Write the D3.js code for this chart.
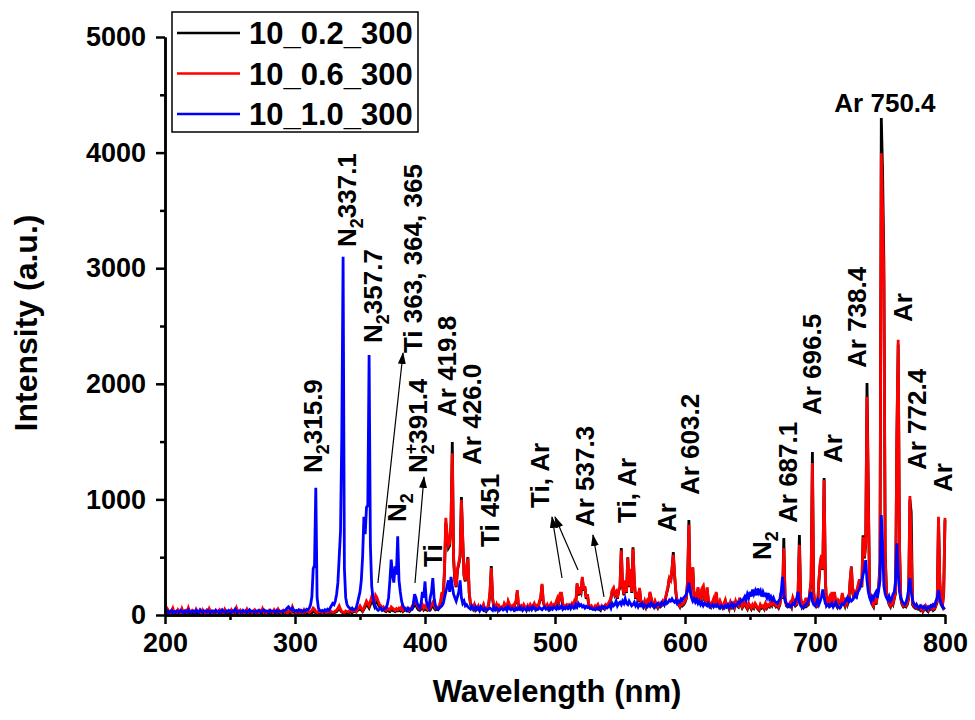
<!DOCTYPE html>
<html>
<head>
<meta charset="utf-8">
<script src="https://cdn.jsdelivr.net/npm/d3@7"></script>
<style>
  body { margin: 0; background: #fff; }
  text { font-family: "Liberation Sans", Arial, sans-serif; font-weight: bold; fill: #000; }
</style>
</head>
<body>
<svg id="the-chart"></svg>
<script>
// wavelength grid of the spectra, 1 nm step (200 ... 800 nm)
const wavelength = d3.range(200, 801, 1);

const seriesNames = ["10_0.2_300", "10_0.6_300", "10_1.0_300"];
const seriesColors = ["#000000", "#ff0000", "#0000ff"];

// intensity, 10_0.2_300 (black)
const int02 = [
  20,15,25,20,10,20,25,15,20,10, 25,20,15,20,25,15,20,10,25,20,
  15,20,25,10,20,25,15,20,10,25, 20,15,25,20,10,20,15,25,20,15,
  10,20,25,15,20,10,25,20,15,20, 25,15,20,10,20,25,15,20,25,15,
  20,10,25,20,15,20,25,15,20,10, 25,20,15,20,10,25,20,15,20,25,
  15,20,10,25,20,15,20,25,15,20, 20,25,15,20,30,25,20,15,40,25,
  20,15,25,20,30,20,15,25,20,15, 20,15,25,20,30,25,20,15,20,25,
  15,20,25,15,20,25,20,30,20,15, 20,25,30,45,60,40,25,20,15,25,
  20,15,30,25,20,35,30,25,40,45, 60,45,30,50,70,90,80,60,90,120,
  110,80,130,110,90,70,60,45,50,35, 30,45,35,30,50,40,35,30,40,35,
  45,35,50,30,40,45,35,40,30,45, 50,70,80,90,60,45,40,50,70,45,
  60,45,40,50,45,70,80,60,45,50, 45,60,100,180,150,380,800,680,580,600,
  780,1497,480,290,240,390,440,500,1020,660, 340,290,410,500,190,90,70,50,80,40,
  50,70,40,60,50,80,40,30,50,90, 190,424,140,60,50,80,40,70,50,60,
  50,90,70,50,110,80,60,70,50,90, 110,205,60,50,70,50,80,60,40,70,
  50,80,60,70,90,50,70,60,110,140, 260,110,70,60,80,50,70,90,60,80,
  70,110,140,110,180,180,90,60,70,80, 60,80,70,90,70,110,90,265,170,210,
  190,320,210,240,140,170,80,60,70,50, 50,70,60,80,50,40,70,60,50,80,
  70,90,110,140,205,225,170,190,140,210, 240,580,240,170,290,190,500,240,390,190,
  585,290,140,190,110,225,120,90,70,110, 70,110,80,190,140,90,70,110,80,60,
  90,70,80,110,90,140,190,240,330,290, 390,545,340,190,110,90,70,110,80,90,
  110,140,290,822,190,290,405,140,190,140, 230,120,90,220,240,130,110,230,120,90,
  70,100,130,80,190,90,70,110,80,60, 90,120,70,80,50,100,70,90,60,110,
  80,70,140,90,60,80,110,70,50,90, 70,50,80,60,90,70,50,40,80,60,
  70,50,90,60,80,70,100,80,110,90, 70,80,60,90,190,140,666,140,80,70,
  80,100,70,140,110,80,90,190,692,140, 70,90,60,140,80,90,190,290,1410,190,
  90,70,80,290,440,510,390,1185,290,90, 110,140,90,190,80,190,90,70,120,110,
  90,180,110,80,140,90,120,290,420,190, 140,190,170,240,290,290,240,690,490,610,
  2007,1100,190,140,90,70,140,90,170,240, 450,4300,3823,3045,550,190,140,90,70,110,
  90,140,190,1557,2340,590,140,90,70,80, 70,90,140,1000,890,90,70,60,80,50,
  50,40,60,30,50,70,40,30,60,50, 70,40,50,80,110,830,290,90,70,190,
  820
];

// intensity, 10_0.6_300 (red)
const int06 = [
  40,20,50,30,20,35,60,25,30,20, 45,30,20,55,25,30,40,20,60,30,
  25,40,30,20,50,30,25,35,20,45, 30,20,40,25,55,30,20,35,25,40,
  20,30,45,25,30,20,50,30,25,35, 30,45,20,35,25,60,30,20,40,25,
  35,20,30,50,25,40,30,20,35,45, 25,30,20,40,30,55,25,35,20,30,
  40,25,30,20,45,30,25,50,30,20, 30,40,25,35,20,30,45,30,70,40,
  30,20,35,25,40,30,20,45,25,30, 35,20,30,40,60,50,30,20,35,25,
  30,20,25,35,20,30,25,40,30,20, 25,35,40,60,80,50,30,25,20,35,
  30,25,40,35,30,45,40,30,50,60, 80,60,40,60,90,120,100,80,120,160,
  140,100,170,150,120,90,80,60,70,50, 40,60,50,45,70,60,50,40,55,45,
  60,50,70,40,55,60,45,50,40,60, 70,90,110,120,80,60,50,70,90,60,
  80,60,50,70,60,90,110,80,60,70, 60,80,120,200,150,400,840,700,600,620,
  800,1400,500,300,250,400,450,520,995,675, 350,300,420,490,200,100,80,60,90,50,
  60,80,50,70,60,90,50,40,60,100, 200,405,150,70,60,90,50,80,60,70,
  60,100,80,60,120,90,70,80,60,100, 120,215,70,60,80,60,90,70,50,80,
  60,90,70,80,100,60,80,70,120,150, 270,120,80,70,90,60,80,100,70,90,
  80,120,150,120,190,190,100,70,80,90, 70,90,80,100,80,120,100,275,180,220,
  200,330,220,250,150,180,90,70,80,60, 60,80,70,90,60,50,80,70,60,90,
  80,100,120,150,215,235,180,200,150,220, 250,560,250,180,300,200,490,250,400,200,
  575,300,150,200,120,235,130,100,80,120, 80,120,90,200,150,100,80,120,90,70,
  100,80,90,120,100,150,200,250,320,300, 400,520,350,200,120,100,80,120,90,100,
  120,150,300,780,200,300,415,150,200,150, 240,130,100,230,250,140,120,240,130,100,
  80,110,140,90,200,100,80,120,90,70, 100,130,80,90,60,110,80,100,70,120,
  90,80,150,100,70,90,120,80,60,100, 80,60,90,70,100,80,60,50,90,70,
  80,60,100,70,90,80,110,90,120,100, 80,90,70,100,200,150,580,150,90,80,
  90,110,80,150,120,90,100,200,605,150, 80,100,70,150,90,100,200,300,1315,200,
  100,80,90,300,450,520,400,1168,300,100, 120,150,100,200,90,200,100,80,130,120,
  100,190,120,90,150,100,130,300,415,200, 150,200,180,250,300,300,250,675,500,620,
  1886,1000,200,150,100,80,150,100,180,250, 400,3995,3500,2870,500,200,150,100,80,120,
  100,150,200,1600,2380,600,150,100,80,90, 80,100,150,1030,600,100,80,70,90,60,
  60,50,70,40,60,80,50,40,70,60, 80,50,60,90,120,850,300,100,80,200,
  840
];

// intensity, 10_1.0_300 (blue)
const int10 = [
  30,25,35,20,30,40,25,30,20,35, 30,25,40,30,20,35,30,25,45,30,
  25,30,35,20,40,30,25,45,30,25, 35,30,25,40,30,20,35,30,25,40,
  30,35,20,30,45,30,25,35,30,40, 30,25,35,30,50,30,25,35,30,25,
  40,30,35,25,30,45,30,35,30,25, 35,30,40,30,25,35,45,30,35,30,
  25,40,30,35,30,25,40,30,35,30, 35,30,40,45,60,70,55,45,60,40,
  35,40,30,45,35,40,30,40,35,50, 45,60,90,160,400,430,1100,150,60,40,
  35,40,30,45,35,50,40,60,80,100, 90,120,180,280,500,720,1550,3100,400,150,
  90,70,60,50,60,45,50,60,100,150, 200,300,500,850,700,930,950,2250,600,250,
  150,100,70,50,40,50,60,40,50,60, 60,90,150,300,480,350,280,420,350,680,
  300,200,120,80,60,50,40,60,50,45, 50,100,180,150,100,80,60,100,200,150,
  290,120,80,60,150,200,320,150,80,60, 50,60,70,80,100,150,200,250,300,200,
  330,250,180,150,120,160,200,300,150,100, 120,80,90,70,60,50,80,60,50,70,
  50,60,40,70,50,40,60,50,45,55, 60,50,40,70,45,60,50,40,55,60,
  45,50,60,40,70,55,45,60,50,40, 60,45,50,70,55,40,60,50,45,65,
  50,60,45,70,55,60,45,50,65,55, 45,60,70,50,55,65,45,60,50,70,
  60,50,75,55,60,80,50,65,55,70, 60,75,55,80,65,60,90,70,100,80,
  90,70,80,60,75,65,70,55,60,50, 55,45,60,50,65,55,70,60,75,65,
  60,70,85,60,100,80,90,120,80,100, 110,90,120,100,140,100,90,120,100,80,
  90,110,80,100,70,90,80,100,70,90, 80,70,90,75,100,80,90,70,85,100,
  90,80,110,100,90,120,100,110,130,120, 140,120,110,130,100,120,110,140,130,150,
  160,180,220,280,200,150,120,140,110,130, 100,120,90,110,80,100,90,80,100,70,
  80,90,70,85,75,90,70,60,80,70, 60,80,70,90,65,80,100,70,90,80,
  90,110,100,130,120,140,160,130,180,150, 200,160,220,180,210,170,230,190,210,160,
  200,170,180,150,190,140,160,130,150,120, 110,100,120,140,200,330,180,120,100,80,
  90,70,80,100,90,120,150,200,110,80, 70,60,80,90,100,130,170,200,120,90,
  80,100,130,90,120,160,220,150,100,80, 90,70,80,100,70,90,110,80,70,60,
  80,100,90,110,130,150,120,140,120,130, 150,180,160,200,220,250,300,350,400,475,
  300,200,150,120,160,140,180,200,150,220, 300,865,600,250,180,150,130,160,120,140,
  180,200,300,620,350,200,150,120,100,90, 110,150,220,320,200,130,100,80,90,70,
  60,80,70,60,75,60,50,70,60,80, 70,90,80,120,150,215,140,100,80,60,
  50
];

const seriesValues = [int02, int06, int10];

// axis ticks
const xMajor = [200, 300, 400, 500, 600, 700, 800];
const xMinor = [250, 350, 450, 550, 650, 750];
const yMajor = [0, 1000, 2000, 3000, 4000, 5000];
const yMinor = [500, 1500, 2500, 3500, 4500];

// peak assignments: label, wavelength / intensity where the label starts
const peakLabels = [
  {pre: "N", sub: "2", sup: "", main: "315.9", wl: 313.8, v: 1228},
  {pre: "N", sub: "2", sup: "", main: "337.1", wl: 340.0, v: 3183},
  {pre: "N", sub: "2", sup: "", main: "357.7", wl: 360.0, v: 2353},
  {main: "Ti 363, 364, 365", wl: 390.8, v: 2266},
  {pre: "N", sub: "2", sup: "", main: "", wl: 378.5, v: 805},
  {pre: "N", sub: "2", sup: "+", main: "391.4", wl: 394.6, v: 1228},
  {main: "Ti", wl: 406.2, v: 415},
  {main: "Ar 419.8", wl: 416.9, v: 1713},
  {main: "Ar 426.0", wl: 436.2, v: 1298},
  {main: "Ti 451", wl: 450.0, v: 588},
  {main: "Ti, Ar", wl: 488.5, v: 926},
  {main: "Ar 537.3", wl: 523.0, v: 761},
  {main: "Ti, Ar", wl: 555.4, v: 796},
  {main: "Ar", wl: 586.2, v: 718},
  {main: "Ar 603.2", wl: 603.8, v: 1038},
  {pre: "N", sub: "2", sup: "", main: "", wl: 659.2, v: 476},
  {main: "Ar 687.1", wl: 679.2, v: 796},
  {main: "Ar 696.5", wl: 697.7, v: 1730},
  {main: "Ar", wl: 713.8, v: 1315},
  {main: "Ar 738.4", wl: 732.3, v: 2137},
  {main: "Ar", wl: 767.7, v: 2535},
  {main: "Ar 772.4", wl: 778.5, v: 1254},
  {main: "Ar", wl: 798.5, v: 1064}
];
const topLabel = {main: "Ar 750.4", wl: 753.8, v: 4351};

// arrows: [wl0, v0, wl1, v1]
const arrows = [
  [363.8, 277, 383.1, 2266],
  [392.3, 277, 399.2, 1194],
  [505.4, 320, 497.7, 848],
  [517.7, 389, 500.0, 848],
  [537.7, 156, 529.2, 692]
];

const width = 975;
const height = 720;

const x = d3.scaleLinear().domain([200, 800]).range([165, 945]);
const y = d3.scaleLinear().domain([0, 5000]).range([615, 37]);

const svg = d3.select("#the-chart")
    .attr("width", width)
    .attr("height", height)
    .attr("viewBox", [0, 0, width, height]);

svg.append("rect").attr("width", width).attr("height", height).attr("fill", "#fff");

// spectra: black first, blue on top
const line = d3.line()
    .x((d, i) => x(wavelength[i]))
    .y(d => y(d));

svg.append("g")
  .selectAll("path")
  .data(seriesValues)
  .join("path")
    .attr("fill", "none")
    .attr("stroke", (d, i) => seriesColors[i])
    .attr("stroke-width", 2.8)
    .attr("d", line);

// axes
function styleAxis(g) {
  g.select(".domain").attr("stroke", "#000").attr("stroke-width", 2.5);
  g.selectAll(".tick line").attr("stroke", "#000").attr("stroke-width", 2.5);
  g.selectAll(".tick text").attr("font-size", 27).attr("font-family", null);
}

svg.append("g")
    .attr("transform", `translate(0,${y(0)})`)
    .call(d3.axisBottom(x).tickValues(xMinor).tickSize(5).tickSizeOuter(0).tickFormat(""))
    .call(styleAxis);
svg.append("g")
    .attr("transform", `translate(0,${y(0)})`)
    .call(d3.axisBottom(x).tickValues(xMajor).tickSize(9).tickSizeOuter(0).tickPadding(9).tickFormat(d3.format("d")))
    .call(styleAxis);

svg.append("g")
    .attr("transform", `translate(${x(200)},0)`)
    .call(d3.axisLeft(y).tickValues(yMinor).tickSize(5).tickSizeOuter(0).tickFormat(""))
    .call(styleAxis);
svg.append("g")
    .attr("transform", `translate(${x(200)},0)`)
    .call(d3.axisLeft(y).tickValues(yMajor).tickSize(9).tickSizeOuter(0).tickPadding(10).tickFormat(d3.format("d")))
    .call(styleAxis);

svg.append("text")
    .attr("x", 557)
    .attr("y", 702)
    .attr("text-anchor", "middle")
    .attr("font-size", 31)
    .text("Wavelength (nm)");

svg.append("text")
    .attr("transform", "translate(37,323) rotate(-90)")
    .attr("text-anchor", "middle")
    .attr("font-size", 32)
    .text("Intensity (a.u.)");

// peak labels
const ann = svg.append("g").attr("font-size", 26);

function fillLabel(t, d) {
  if (d.sub) {
    t.append("tspan").text(d.pre);
    t.append("tspan").attr("font-size", 18).attr("dy", 7).text(d.sub);
    if (d.sup) {
      t.append("tspan").attr("font-size", 18).attr("dx", -10).attr("dy", -17).text(d.sup);
      t.append("tspan").attr("dy", 10).text(d.main);
    } else {
      t.append("tspan").attr("dy", -7).text(d.main);
    }
  } else {
    t.text(d.main);
  }
}

peakLabels.forEach(d => {
  const t = ann.append("text")
      .attr("transform", `translate(${x(d.wl) + 9},${y(d.v)}) rotate(-90)`);
  fillLabel(t, d);
});

ann.append("text")
    .attr("x", x(topLabel.wl))
    .attr("y", y(topLabel.v))
    .attr("text-anchor", "middle")
    .text(topLabel.main);

// arrows
svg.append("defs").append("marker")
    .attr("id", "head")
    .attr("viewBox", "0 0 12 8")
    .attr("refX", 11)
    .attr("refY", 4)
    .attr("markerWidth", 12)
    .attr("markerHeight", 8)
    .attr("markerUnits", "userSpaceOnUse")
    .attr("orient", "auto")
  .append("path")
    .attr("d", "M0,0L12,4L0,8Z")
    .attr("fill", "#000");

svg.append("g")
  .selectAll("line")
  .data(arrows)
  .join("line")
    .attr("x1", d => x(d[0]))
    .attr("y1", d => y(d[1]))
    .attr("x2", d => x(d[2]))
    .attr("y2", d => y(d[3]))
    .attr("stroke", "#000")
    .attr("stroke-width", 1.2)
    .attr("marker-end", "url(#head)");

// legend
const legend = svg.append("g");
legend.append("rect")
    .attr("x", 172).attr("y", 12)
    .attr("width", 246).attr("height", 120)
    .attr("fill", "#fff")
    .attr("stroke", "#000")
    .attr("stroke-width", 1.5);

const rows = legend.selectAll("g.row")
  .data(seriesNames)
  .join("g")
    .attr("class", "row")
    .attr("transform", (d, i) => `translate(0,${33 + i * 40.5})`);
rows.append("line")
    .attr("x1", 177).attr("x2", 240)
    .attr("stroke", (d, i) => seriesColors[i])
    .attr("stroke-width", 2.5);
rows.append("text")
    .attr("x", 249)
    .attr("y", 11)
    .attr("font-size", 31)
    .text(d => d);
</script>
</body>
</html>
